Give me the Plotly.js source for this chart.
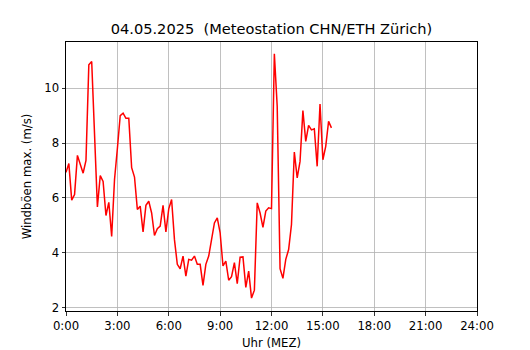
<!DOCTYPE html>
<html>
<head>
<meta charset="utf-8">
<script src="https://cdn.plot.ly/plotly-3.0.1.min.js"></script>
<style>html,body{margin:0;padding:0;background:#fff;}#chart{width:530px;height:350px;}</style>
</head>
<body>
<div id="chart"></div>
<script>
// 10-minute maximum wind gusts (m/s), starting 00:00
const startMinute = 0;
const stepMinutes = 10;
const gusts = [
  6.93, 7.25, 5.92, 6.12, 7.55, 7.2, 6.9, 7.37, 10.85, 10.97,
  8.2, 5.67, 6.81, 6.6, 5.36, 5.84, 4.6, 6.67, 7.8, 9.0,
  9.09, 8.9, 8.9, 7.1, 6.76, 5.58, 5.7, 4.76, 5.73, 5.88,
  5.45, 4.63, 4.88, 4.97, 5.73, 4.76, 5.6, 5.94, 4.48, 3.58,
  3.42, 3.88, 3.15, 3.76, 3.73, 3.88, 3.58, 3.58, 2.81, 3.58,
  3.88, 4.48, 5.09, 5.27, 4.73, 3.52, 3.7, 3.0, 3.13, 3.64,
  2.88, 3.84, 3.85, 2.74, 3.33, 2.35, 2.64, 5.82, 5.45, 4.93,
  5.52, 5.64, 5.61, 11.25, 9.33, 3.42, 3.07, 3.76, 4.12, 5.03,
  7.67, 6.73, 7.33, 9.18, 8.06, 8.64, 8.48, 8.52, 7.15, 9.42,
  7.39, 7.88, 8.79, 8.55
];
const tickHours = [0, 3, 6, 9, 12, 15, 18, 21, 24];
const tickLabels = ["0:00", "3:00", "6:00", "9:00", "12:00", "15:00", "18:00", "21:00", "24:00"];
const yTicks = [2, 4, 6, 8, 10];

const hours = gusts.map((_, i) => (startMinute + i * stepMinutes) / 60);

const trace = {
  x: hours, y: gusts, type: 'scatter', mode: 'lines',
  line: {color: '#ff0000', width: 1.5},
  hoverinfo: 'skip'
};

const fs = 11.7;
const axisCommon = {
  showline: true, linecolor: '#000', linewidth: 1, mirror: true,
  ticks: 'outside', ticklen: 3.5, tickwidth: 0.8, tickcolor: '#000',
  showgrid: true, gridcolor: '#b0b0b0', gridwidth: 0.8,
  zeroline: false,
  tickfont: {family: 'DejaVu Sans', size: fs, color: '#000'}
};

const layout = {
  width: 530, height: 350,
  margin: {l: 66, r: 53, t: 42, b: 39, pad: 0},
  paper_bgcolor: '#fff', plot_bgcolor: '#fff',
  font: {family: 'DejaVu Sans', color: '#000'},
  showlegend: false,
  title: {text: '04.05.2025  (Meteostation CHN/ETH Zürich)', font: {family: 'DejaVu Sans', size: 14.6, color: '#000'},
          x: 0.5, xref: 'paper', y: 1, yref: 'paper', yanchor: 'bottom', pad: {b: 8}},
  xaxis: Object.assign({}, axisCommon, {
    range: [0, 24], tickmode: 'array', tickvals: tickHours, ticktext: tickLabels,
    title: {text: 'Uhr (MEZ)', font: {family: 'DejaVu Sans', size: fs, color: '#000'}, standoff: 8}
  }),
  yaxis: Object.assign({}, axisCommon, {
    range: [1.88, 11.68], tickmode: 'array', tickvals: yTicks,
    title: {text: 'Windböen max. (m/s)', font: {family: 'DejaVu Sans', size: fs, color: '#000'}, standoff: 10}
  })
};

Plotly.newPlot('chart', [trace], layout, {staticPlot: true, displayModeBar: false});
</script>
</body>
</html>
